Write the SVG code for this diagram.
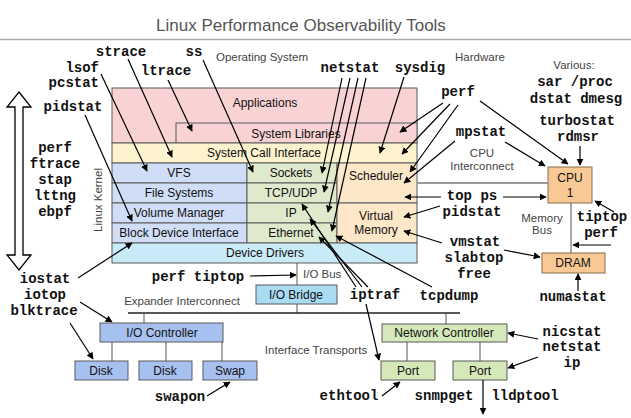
<svg xmlns="http://www.w3.org/2000/svg" width="631" height="418" viewBox="0 0 631 418">
<defs>
<marker id="ah" viewBox="0 0 10 10" refX="9" refY="5" markerWidth="7" markerHeight="7" markerUnits="userSpaceOnUse" orient="auto">
<path d="M0,0 L10,5 L0,10 z" fill="#000"/>
</marker>
</defs>
<style>
.tool{font-family:"Liberation Mono","Courier New",monospace;font-weight:bold;font-size:14px;fill:#111;text-anchor:middle}
.lbl{font-family:"Liberation Sans",Arial,sans-serif;font-size:12px;fill:#111;text-anchor:middle}
.reg{font-family:"Liberation Sans",Arial,sans-serif;font-size:11.5px;fill:#444;text-anchor:middle}
.box{stroke:#5a5a5a;stroke-width:1}
.pink{fill:#f9d3d3}.yel{fill:#fdf3cf}.blu{fill:#cfddf6}.grn{fill:#dfe9cb}.org{fill:#fce7c9}.cyn{fill:#c9eaf7}
.brg{fill:#a9dcf3}.mblu{fill:#a6c0f0}.mgrn{fill:#d5e8b9}.hw{fill:#f9c995;stroke:#8a6a4a;stroke-width:1}
.arr{stroke:#000;stroke-width:1.2;fill:none;marker-end:url(#ah)}
.wire{stroke:#555;stroke-width:1;fill:none}
</style>
<rect width="631" height="418" fill="#fff"/>
<g id="title">
<text x="301" y="31" font-family="Liberation Sans,Arial,sans-serif" font-size="17" fill="#555" text-anchor="middle">Linux Performance Observability Tools</text>
<line x1="0" y1="39.5" x2="631" y2="39.5" stroke="#aaa" stroke-width="1.5"/>
</g>
<g id="regions">
<text class="reg" x="262" y="61">Operating System</text>
<text class="reg" x="480" y="61">Hardware</text>
<text class="reg" x="574" y="69">Various:</text>
<text class="reg" x="482" y="157">CPU</text>
<text class="reg" x="482" y="170">Interconnect</text>
<text class="reg" x="542" y="222">Memory</text>
<text class="reg" x="542" y="234">Bus</text>
<text class="reg" x="102" y="200" transform="rotate(-90 102 200)">Linux Kernel</text>
<text class="reg" x="303" y="278" style="text-anchor:start">I/O Bus</text>
<text class="reg" x="182" y="305">Expander Interconnect</text>
<text class="reg" x="316" y="354">Interface Transports</text>
</g>
<g id="kernel-arrow">
<polygon points="19,92 31,107 23,107 23,255 31,255 19,270 7,255 15,255 15,107 7,107" fill="#fff" stroke="#000" stroke-width="1.3"/>
</g>
<g id="applications"><rect class="box pink" x="112" y="88" width="305" height="55"/><text class="lbl" x="265" y="107">Applications</text></g>
<g id="system-libraries"><rect class="box pink" x="176" y="123" width="241" height="20"/><text class="lbl" x="296" y="138">System Libraries</text></g>
<g id="syscall"><rect class="box yel" x="112" y="143" width="305" height="20"/><text class="lbl" x="264" y="157">System Call Interface</text></g>
<g id="vfs"><rect class="box blu" x="112" y="163" width="135" height="20"/><text class="lbl" x="179" y="177">VFS</text></g>
<g id="filesystems"><rect class="box blu" x="112" y="183" width="135" height="20"/><text class="lbl" x="179" y="197">File Systems</text></g>
<g id="volume-manager"><rect class="box blu" x="112" y="203" width="135" height="20"/><text class="lbl" x="179" y="217">Volume Manager</text></g>
<g id="block-device"><rect class="box blu" x="112" y="223" width="135" height="20"/><text class="lbl" x="179" y="237">Block Device Interface</text></g>
<g id="sockets"><rect class="box grn" x="247" y="163" width="90" height="20"/><text class="lbl" x="291" y="177">Sockets</text></g>
<g id="tcpudp"><rect class="box grn" x="247" y="183" width="90" height="20"/><text class="lbl" x="291" y="197">TCP/UDP</text></g>
<g id="ip"><rect class="box grn" x="247" y="203" width="90" height="20"/><text class="lbl" x="291" y="217">IP</text></g>
<g id="ethernet"><rect class="box grn" x="247" y="223" width="90" height="20"/><text class="lbl" x="291" y="237">Ethernet</text></g>
<g id="scheduler"><rect class="box org" x="337" y="163" width="80" height="40"/><text class="lbl" x="376" y="180">Scheduler</text></g>
<g id="virtual-memory"><rect class="box org" x="337" y="203" width="80" height="40"/><text class="lbl" x="376" y="220">Virtual</text><text class="lbl" x="376" y="234">Memory</text></g>
<g id="device-drivers"><rect class="box cyn" x="112" y="243" width="305" height="20"/><text class="lbl" x="265" y="257">Device Drivers</text></g>
<g id="cpu"><rect class="hw" x="548" y="167" width="44" height="36"/><text class="lbl" x="570" y="182">CPU</text><text class="lbl" x="570" y="197">1</text></g>
<g id="dram"><rect class="hw" x="542" y="253" width="63" height="20"/><text class="lbl" x="573" y="267">DRAM</text></g>
<g id="io-bridge"><rect class="box brg" x="256" y="285" width="81" height="19"/><text class="lbl" x="296" y="299">I/O Bridge</text></g>
<g id="io-controller"><rect class="box mblu" x="100" y="323" width="123" height="19"/><text class="lbl" x="162" y="337">I/O Controller</text></g>
<g id="disk1"><rect class="box mblu" x="75" y="361" width="53" height="19"/><text class="lbl" x="101" y="375">Disk</text></g>
<g id="disk2"><rect class="box mblu" x="139" y="361" width="53" height="19"/><text class="lbl" x="165" y="375">Disk</text></g>
<g id="swap"><rect class="box mblu" x="203" y="361" width="54" height="19"/><text class="lbl" x="230" y="375">Swap</text></g>
<g id="network-controller"><rect class="box mgrn" x="382" y="324" width="125" height="18"/><text class="lbl" x="444" y="337">Network Controller</text></g>
<g id="port1"><rect class="box mgrn" x="381" y="361" width="54" height="19"/><text class="lbl" x="408" y="375">Port</text></g>
<g id="port2"><rect class="box mgrn" x="453" y="361" width="54" height="19"/><text class="lbl" x="480" y="375">Port</text></g>
<g id="tools">
<text class="tool" x="121" y="56">strace</text>
<text class="tool" x="194" y="56">ss</text>
<text class="tool" x="99" y="72" style="text-anchor:end">lsof</text>
<text class="tool" x="99" y="87" style="text-anchor:end">pcstat</text>
<text class="tool" x="166" y="75">ltrace</text>
<text class="tool" x="73" y="111">pidstat</text>
<text class="tool" x="350" y="72">netstat</text>
<text class="tool" x="420" y="72">sysdig</text>
<text class="tool" x="458" y="96">perf</text>
<text class="tool" x="575" y="86">sar /proc</text>
<text class="tool" x="576" y="103">dstat dmesg</text>
<text class="tool" x="577" y="125">turbostat</text>
<text class="tool" x="578" y="141">rdmsr</text>
<text class="tool" x="481" y="136">mpstat</text>
<text class="tool" x="472" y="200">top ps</text>
<text class="tool" x="472" y="216">pidstat</text>
<text class="tool" x="602" y="221">tiptop</text>
<text class="tool" x="601" y="237">perf</text>
<text class="tool" x="475" y="246">vmstat</text>
<text class="tool" x="474" y="262">slabtop</text>
<text class="tool" x="474" y="278">free</text>
<text class="tool" x="573" y="301">numastat</text>
<text class="tool" x="55" y="152">perf</text>
<text class="tool" x="55" y="168">ftrace</text>
<text class="tool" x="55" y="184">stap</text>
<text class="tool" x="55" y="200">lttng</text>
<text class="tool" x="55" y="216">ebpf</text>
<text class="tool" x="45" y="283">iostat</text>
<text class="tool" x="45" y="299">iotop</text>
<text class="tool" x="44" y="315">blktrace</text>
<text class="tool" x="198" y="281">perf tiptop</text>
<text class="tool" x="375" y="299">iptraf</text>
<text class="tool" x="449" y="300">tcpdump</text>
<text class="tool" x="572" y="336">nicstat</text>
<text class="tool" x="572" y="351">netstat</text>
<text class="tool" x="572" y="367">ip</text>
<text class="tool" x="180" y="401">swapon</text>
<text class="tool" x="349" y="400">ethtool</text>
<text class="tool" x="444" y="400">snmpget</text>
<text class="tool" x="525" y="400">lldptool</text>
</g>
<g id="connectors">
<line x1="417" y1="183" x2="548" y2="183" stroke="#999" stroke-width="2"/>
<line class="wire" x1="571" y1="203" x2="571" y2="253"/>
<line class="wire" x1="297" y1="263" x2="297" y2="285"/>
<line class="wire" x1="297" y1="304" x2="297" y2="313"/>
<line x1="128" y1="313" x2="460" y2="313" stroke="#222" stroke-width="1.5"/>
<line class="wire" x1="144" y1="313" x2="144" y2="323"/>
<line class="wire" x1="446" y1="313" x2="446" y2="324"/>
<line class="wire" x1="112" y1="342" x2="112" y2="361"/>
<line class="wire" x1="166" y1="342" x2="166" y2="361"/>
<line class="wire" x1="222" y1="342" x2="222" y2="361"/>
<line class="wire" x1="407" y1="342" x2="407" y2="361"/>
<line class="wire" x1="480" y1="342" x2="480" y2="361"/>
<line class="arr" x1="128" y1="59" x2="172" y2="157"/>
<line class="arr" x1="101" y1="74" x2="147" y2="171"/>
<line class="arr" x1="168" y1="80" x2="192" y2="131"/>
<line class="arr" x1="203" y1="60" x2="253" y2="172"/>
<line class="arr" x1="85" y1="115" x2="132" y2="221"/>
<line class="arr" x1="342" y1="78" x2="322" y2="173"/>
<line class="arr" x1="350" y1="78" x2="324" y2="192"/>
<line class="arr" x1="358" y1="78" x2="328" y2="212"/>
<line class="arr" x1="366" y1="78" x2="332" y2="231"/>
<line class="arr" x1="404" y1="77" x2="380" y2="153"/>
<line class="arr" x1="443" y1="103" x2="400" y2="132"/>
<line class="arr" x1="450" y1="104" x2="402" y2="154"/>
<line class="arr" x1="458" y1="105" x2="410" y2="172"/>
<line class="arr" x1="480" y1="101" x2="568" y2="164"/>
<line class="arr" x1="455" y1="141" x2="404" y2="183"/>
<line class="arr" x1="505" y1="142" x2="545" y2="166"/>
<line class="arr" x1="580" y1="146" x2="580" y2="165"/>
<line class="arr" x1="441" y1="197" x2="405" y2="197"/>
<line class="arr" x1="503" y1="197" x2="546" y2="197"/>
<line class="arr" x1="440" y1="206" x2="404" y2="217"/>
<line class="arr" x1="614" y1="212" x2="595" y2="201"/>
<line class="arr" x1="611" y1="245" x2="573" y2="245"/>
<line class="arr" x1="442" y1="243" x2="404" y2="231"/>
<line class="arr" x1="504" y1="250" x2="540" y2="257"/>
<line class="arr" x1="578" y1="291" x2="578" y2="274"/>
<line class="arr" x1="78" y1="278" x2="132" y2="243"/>
<line class="arr" x1="80" y1="302" x2="112" y2="322"/>
<line class="arr" x1="70" y1="323" x2="93" y2="359"/>
<line class="arr" x1="250" y1="276" x2="296" y2="275"/>
<line class="arr" x1="356" y1="287" x2="302" y2="204"/>
<line class="arr" x1="362" y1="287" x2="310" y2="219"/>
<line class="arr" x1="368" y1="287" x2="319" y2="237"/>
<line class="arr" x1="366" y1="304" x2="379" y2="360"/>
<line class="arr" x1="432" y1="287" x2="336" y2="236"/>
<line class="arr" x1="207" y1="396" x2="230" y2="382"/>
<line class="arr" x1="382" y1="396" x2="400" y2="382"/>
<line class="arr" x1="538" y1="339" x2="508" y2="333"/>
<line class="arr" x1="538" y1="357" x2="508" y2="368"/>
<line class="arr" x1="483" y1="380" x2="483" y2="414"/>
</g>
</svg>
